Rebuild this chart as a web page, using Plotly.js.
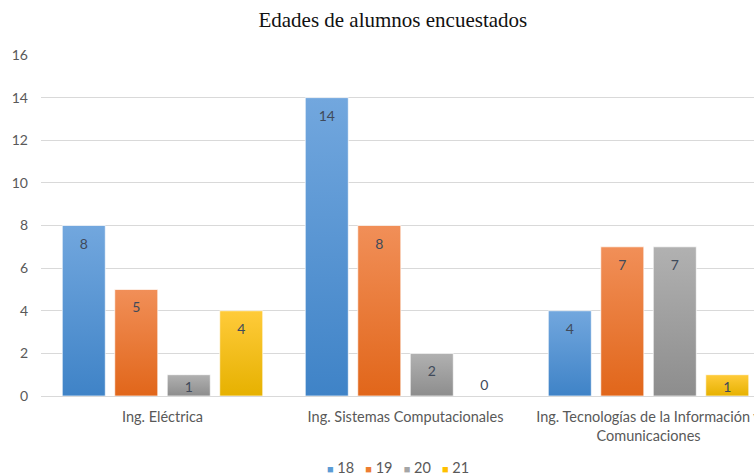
<!DOCTYPE html>
<html>
<head>
<meta charset="utf-8">
<script src="https://cdn.plot.ly/plotly-3.0.1.min.js"></script>
<style>html,body{margin:0;padding:0;background:#fff;}#chart{width:754px;height:476px;}</style>
</head>
<body>
<div id="chart"></div>
<script>
const categories = ["Ing. Eléctrica", "Ing. Sistemas Computacionales", "Ing. Tecnologías de la Información y<br>Comunicaciones"];
const seriesNames = ["18", "19", "20", "21"];
const s18 = [8, 14, 4];
const s19 = [5, 8, 7];
const s20 = [1, 2, 7];
const s21 = [4, 0, 1];
const yTicks = [0, 2, 4, 6, 8, 10, 12, 14, 16];

const colors = ["#5b9bd5", "#ed7d31", "#a5a5a5", "#ffc000"];
const gradTop = ["#72a7de", "#f18f58", "#b1b1b1", "#ffcb3a"];
const gradBot = ["#3f83c7", "#e1661a", "#8d8d8d", "#e6b100"];
const FONT = "Lato, 'Open Sans', sans-serif";

const allSeries = [s18, s19, s20, s21];
const data = allSeries.map((vals, i) => ({
  type: "bar",
  name: seriesNames[i],
  x: categories,
  y: vals,
  text: vals.map(String),
  textposition: vals.map(v => v === 0 ? "outside" : "inside"),
  insidetextanchor: "end",
  textangle: 0,
  constraintext: "none",
  cliponaxis: false,
  insidetextfont: {family: FONT, size: 14, color: "#404a5a"},
  outsidetextfont: {family: FONT, size: 14, color: "#404a5a"},
  marker: {color: colors[i], line: {color: "rgba(255,255,255,0.7)", width: 1}},
  hoverinfo: "none",
  showlegend: false
}));

const legendText = seriesNames.map((n, i) =>
  "<span style='color:" + colors[i] + ";font-size:11px'>■</span> " + n).join("   ");

const layout = {
  width: 754, height: 476,
  margin: {l: 41, r: 0, t: 54.5, b: 80},
  paper_bgcolor: "#fff", plot_bgcolor: "#fff",
  title: {text: "Edades de alumnos encuestados", font: {family: "'Liberation Serif', 'Times New Roman', serif", size: 21, color: "#111"}, x: 0.521, xanchor: "center", y: 0.958, yanchor: "middle"},
  barmode: "group",
  bargap: 0.136,
  bargroupgap: 0.18,
  xaxis: {
    range: [-0.5, 2.434],
    showgrid: false, zeroline: false,
    showline: true, linecolor: "#d9d9d9", linewidth: 1,
    ticks: "", fixedrange: true, automargin: false,
    tickfont: {family: FONT, size: 14.5, color: "#595959"},
    ticklabelstandoff: 8
  },
  yaxis: {
    range: [0, 16], automargin: false,
    tickvals: yTicks, ticktext: yTicks.map(String),
    showgrid: true, gridcolor: "#d9d9d9", gridwidth: 1,
    zeroline: false, showline: false, ticks: "",
    tickfont: {family: FONT, size: 14, color: "#595959"},
    ticklabelstandoff: 12,
    fixedrange: true
  },
  showlegend: false,
  annotations: [{
    text: legendText, showarrow: false,
    xref: "paper", yref: "paper", x: 0.5, xanchor: "center",
    y: -(468 - 396) / 341.5, yanchor: "middle",
    font: {family: FONT, size: 14.5, color: "#595959"}
  }]
};

Plotly.newPlot("chart", data, layout, {displayModeBar: false, staticPlot: true}).then(gd => {
  const svg = gd.querySelector("svg.main-svg");
  const ns = "http://www.w3.org/2000/svg";
  let defs = svg.querySelector("defs");
  if (!defs) { defs = document.createElementNS(ns, "defs"); svg.insertBefore(defs, svg.firstChild); }
  colors.forEach((c, i) => {
    const g = document.createElementNS(ns, "linearGradient");
    g.setAttribute("id", "bargrad" + i);
    g.setAttribute("x1", "0"); g.setAttribute("y1", "0");
    g.setAttribute("x2", "0"); g.setAttribute("y2", "1");
    [["0", gradTop[i]], ["1", gradBot[i]]].forEach(([o, col]) => {
      const s = document.createElementNS(ns, "stop");
      s.setAttribute("offset", o); s.setAttribute("stop-color", col);
      g.appendChild(s);
    });
    defs.appendChild(g);
  });
  gd.querySelectorAll(".barlayer .trace.bars").forEach((tr, i) => {
    tr.querySelectorAll(".point").forEach(pt => {
      const p = pt.querySelector("path");
      if (p) p.style.fill = "url(#bargrad" + i + ")";
      const t = pt.querySelector("text");
      if (p && t) {
        const h = p.getBBox().height;
        if (h > 35) {
          const tf = t.getAttribute("transform") || "";
          t.setAttribute("transform", "translate(0,6) " + tf);
        }
      }
    });
  });
});
</script>
</body>
</html>
